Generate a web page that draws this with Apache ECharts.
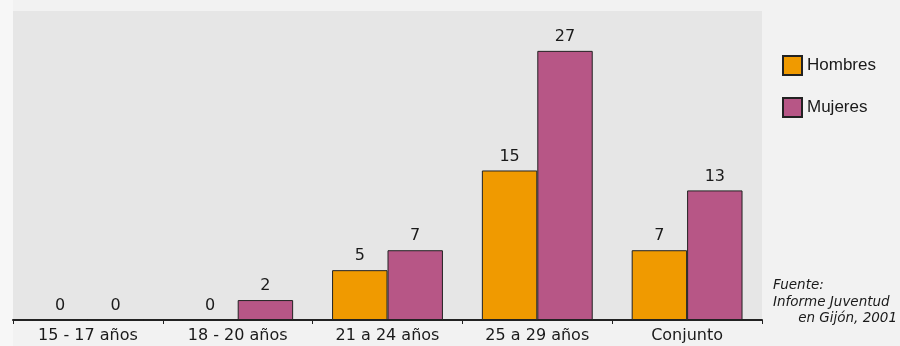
<!DOCTYPE html>
<html>
<head>
<meta charset="utf-8">
<script src="https://cdn.jsdelivr.net/npm/echarts@6/dist/echarts.min.js"></script>
<style>
  html, body { margin: 0; padding: 0; background: #f2f2f2; }
</style>
</head>
<body>
<div id="chart" style="width:900px;height:346px;"></div>
<script>
var categories = ['15 - 17 años', '18 - 20 años', '21 a 24 años', '25 a 29 años', 'Conjunto'];
var hombres = [0, 0, 5, 15, 7];
var mujeres = [0, 2, 7, 27, 13];
var sourceLines = ['Fuente:', 'Informe Juventud', 'en Gijón, 2001'];

var chart = echarts.init(document.getElementById('chart'));
var labelFont = 'DejaVu Sans, Verdana, sans-serif';
var sourceFont = 'italic 13.5px DejaVu Sans, Verdana, sans-serif';

var option = {
  backgroundColor: '#f2f2f2',
  animation: false,
  grid: {
    left: 13, right: 138, top: 11, bottom: 26,
    show: true, backgroundColor: '#e6e6e6', borderWidth: 0
  },
  legend: {
    orient: 'vertical',
    left: 777, top: 50,
    itemWidth: 19, itemHeight: 19, itemGap: 21,
    icon: 'rect',
    textStyle: { fontFamily: 'Liberation Sans, Arial, sans-serif', fontSize: 17, color: '#1a1a1a' },
    data: ['Hombres', 'Mujeres']
  },
  graphic: [
    { type: 'rect', left: 0, top: 0, shape: { width: 13, height: 346 }, style: { fill: '#f7f7f7' }, z: -1 },
    { type: 'text', left: 773, top: 278, style: { text: sourceLines[0], font: sourceFont, fill: '#1a1a1a' } },
    { type: 'text', left: 773, top: 295, style: { text: sourceLines[1], font: sourceFont, fill: '#1a1a1a' } },
    { type: 'text', right: 3, top: 311, style: { text: sourceLines[2], font: sourceFont, fill: '#1a1a1a' } }
  ],
  xAxis: {
    type: 'category',
    data: categories,
    axisLine: { lineStyle: { color: '#222', width: 2 } },
    axisTick: { show: true, length: 4, lineStyle: { color: '#222' } },
    axisLabel: { fontFamily: labelFont, fontSize: 16, color: '#1a1a1a', margin: 8 }
  },
  yAxis: {
    type: 'value', min: 0, max: 31,
    show: false, splitLine: { show: false }
  },
  series: [
    {
      name: 'Hombres', type: 'bar', data: hombres,
      barGap: '0%', barCategoryGap: '26%',
      itemStyle: { color: '#f09a00', borderColor: '#222', borderWidth: 1 },
      label: { show: true, position: 'top', distance: 6, fontFamily: labelFont, fontSize: 16, color: '#1a1a1a' }
    },
    {
      name: 'Mujeres', type: 'bar', data: mujeres,
      itemStyle: { color: '#b75686', borderColor: '#222', borderWidth: 1 },
      label: { show: true, position: 'top', distance: 6, fontFamily: labelFont, fontSize: 16, color: '#1a1a1a' }
    }
  ]
};
chart.setOption(option);
window.addEventListener('resize', function () { chart.resize(); });
</script>
</body>
</html>
